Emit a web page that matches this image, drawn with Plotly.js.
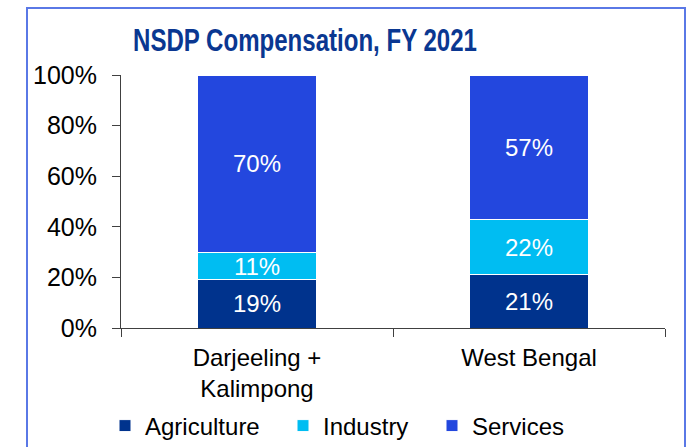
<!DOCTYPE html>
<html>
<head>
<meta charset="utf-8">
<script src="https://cdn.plot.ly/plotly-3.0.1.min.js"></script>
<style>html,body{margin:0;padding:0;background:#fff;}#chart{width:692px;height:447px;}</style>
</head>
<body>
<div id="chart"></div>
<script>
const categories = ["Darjeeling +<br>Kalimpong", "West Bengal"];
const seriesNames = ["Agriculture", "Industry", "Services"];
const agriculture = [19, 21];
const industry = [11, 22];
const services = [70, 57];
const yTickVals = [0, 20, 40, 60, 80, 100];
const yTickText = ["0%", "20%", "40%", "60%", "80%", "100%"];

const colors = ["#00338D", "#00BDF2", "#2347DE"];
const values = [agriculture, industry, services];
const legendIds = ["legend", "legend2", "legend3"];

const FONT = "Liberation Sans, Arial, sans-serif";
const TITLE_CENTER_PX = 305;

const traces = seriesNames.map((name, i) => ({
  type: "bar",
  name: name,
  x: categories,
  y: values[i],
  legend: legendIds[i],
  marker: {color: colors[i], line: {color: "#ffffff", width: 1}},
  texttemplate: "%{y}%",
  textposition: "inside",
  insidetextanchor: "middle",
  constraintext: "none",
  textangle: 0,
  textfont: {color: "#ffffff", size: 24, family: FONT},
  hoverinfo: "skip"
}));

function legendAt(xpx) {
  return {
    orientation: "h",
    x: (xpx - 121) / 544,
    xanchor: "left",
    y: (328 - 426) / 253,
    yanchor: "middle",
    font: {size: 24, family: FONT, color: "#000"},
    bgcolor: "rgba(0,0,0,0)",
    itemclick: false,
    itemdoubleclick: false
  };
}

const layout = {
  width: 692,
  height: 447,
  margin: {l: 121, r: 27, t: 75, b: 119, autoexpand: false},
  paper_bgcolor: "#ffffff",
  plot_bgcolor: "#ffffff",
  font: {family: FONT, color: "#000000", size: 24},
  barmode: "stack",
  bargap: 0.559,
  title: {
    text: "NSDP Compensation, FY 2021",
    font: {family: FONT, size: 31, color: "#0A3791", weight: "bold"},
    xref: "container", yref: "container",
    x: TITLE_CENTER_PX / 692, xanchor: "center",
    y: 1 - 40 / 447, yanchor: "middle"
  },
  xaxis: {
    type: "category",
    showline: true, linecolor: "#404040", linewidth: 1,
    ticks: "outside", tickson: "boundaries", ticklen: 8, tickcolor: "#404040",
    ticklabelstandoff: 8,
    showgrid: false, zeroline: false,
    tickfont: {size: 24, family: FONT, color: "#000"},
    fixedrange: true
  },
  yaxis: {
    range: [0, 100],
    tickvals: yTickVals, ticktext: yTickText,
    showline: true, linecolor: "#404040", linewidth: 1,
    ticks: "outside", ticklen: 8, tickcolor: "#404040",
    ticklabelstandoff: 10,
    showgrid: false, zeroline: false,
    tickfont: {size: 25, family: FONT, color: "#000"},
    fixedrange: true
  },
  showlegend: true,
  legend: legendAt(105),
  legend2: legendAt(283),
  legend3: legendAt(432),
  shapes: [{
    type: "rect", xref: "paper", yref: "paper",
    x0: (27 - 121) / 544, x1: (685 - 121) / 544,
    y0: -0.7, y1: (328 - 8) / 253,
    line: {color: "#5A78E6", width: 2},
    fillcolor: "rgba(0,0,0,0)",
    layer: "above"
  }]
};

Plotly.newPlot("chart", traces, layout, {staticPlot: true, displayModeBar: false}).then(gd => {
  // narrow the title horizontally (the original uses a condensed bold face)
  const t = gd.querySelector(".gtitle");
  if (t) {
    const w = t.getBBox().width;
    const s = 344 / w;
    const cx = TITLE_CENTER_PX;
    t.setAttribute("transform", `translate(${cx},0) scale(${s},1) translate(${-cx},0)`);
  }
});
</script>
</body>
</html>
